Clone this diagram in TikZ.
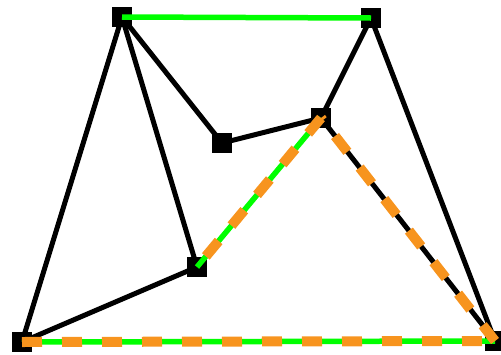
\documentclass[tikz,border=0pt]{standalone}
\usepackage{tikz}
\usepackage{xcolor}
\definecolor{routeorange}{RGB}{247,148,30}
\tikzset{
  vertex/.style = {rectangle, fill=black, minimum size=20pt, inner sep=0pt},
  edge/.style = {line width=5pt},
  span/.style = {draw=green, line width=5.5pt},
  route/.style = {draw=routeorange, line width=10pt, dash pattern=on 20pt off 20pt}
}

\begin{document}
\begin{tikzpicture}[x=1pt, y=-1pt]
\useasboundingbox (0,0) rectangle (501,354);

\node[vertex] (a) at (122,17) {};
\node[vertex] (b) at (371,18) {};
\node[vertex] (c) at (222,143) {};
\node[vertex] (d) at (321,118) {};
\node[vertex] (e) at (197,267) {};
\node[vertex] (f) at (22,342) {};
\node[vertex] (g) at (495,341) {};

\draw[edge] (a.center) -- (f.center);
\draw[edge] (a.center) -- (e.center);
\draw[edge] (a.center) -- (c.center);
\draw[edge] (c.center) -- (d.center);
\draw[edge] (b.center) -- (d.center);
\draw[edge] (b.center) -- (g.center);
\draw[edge] (e.center) -- (f.center);
\draw[edge] (d.center) -- (g.center);

\draw[span] (a.center) -- (b.center);
\draw[span] (d.center) -- (e.center);
\draw[span] (f.center) -- (g.center);

\draw[route] (d.center) -- (e.center);
\draw[route] (g.center) -- (d.center);
\draw[route] (f.center) -- (g.center);

\end{tikzpicture}
\end{document}
